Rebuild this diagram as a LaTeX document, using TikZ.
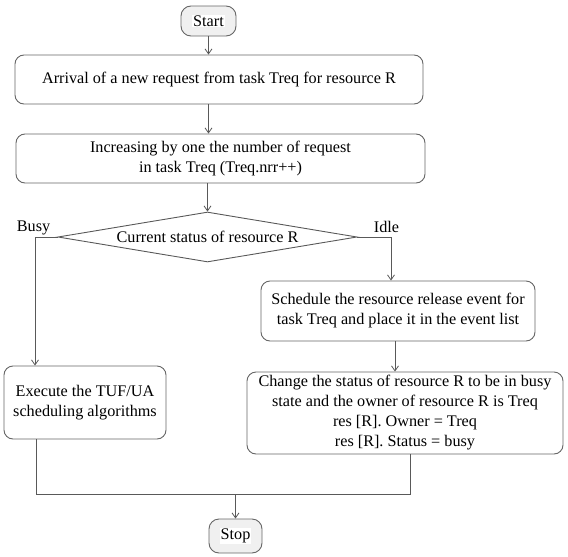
\documentclass[tikz,border=0pt]{standalone}
\usepackage{fontspec}
\setmainfont{Liberation Serif}
\usetikzlibrary{shapes.geometric,arrows.meta}
\begin{document}
\begin{tikzpicture}[x=1pt,y=-1pt,
  font=\fontsize{16.2}{20}\selectfont,
  line/.style={draw=black!65,line width=0.9pt},
  arr/.style={line,-{Straight Barb[length=5pt,width=7pt,line width=0.8pt]}},
  proc/.style={draw=black!60,line width=0.9pt,rounded corners=9pt,align=center,inner sep=0pt,fill=white},
  term/.style={draw=black!60,line width=0.9pt,rounded corners=10pt,fill=black!6,inner sep=0pt,align=center},
  decision/.style={diamond,draw=black!65,line width=0.9pt,inner sep=0pt,align=center},
  lbl/.style={inner sep=0pt}]
\useasboundingbox (0,0) rectangle (568,557);
\setlength\fboxsep{1pt}
\node[term,minimum width=55pt,minimum height=30pt] (start) at (208.5,21) {\colorbox{white}{Start}};
\node[proc,minimum width=408pt,minimum height=49pt] (b1) at (219,79.5) {Arrival of a new request from task Treq for resource R};
\node[proc,minimum width=409pt,minimum height=49pt] (b2) at (220.5,158.5) {Increasing by one the number of request\\in task Treq (Treq.nrr++)};
\node[decision,minimum width=299pt,minimum height=50pt] (dia) at (207.5,237) {};
\node[lbl] (diat) at (207.5,237) {Current status of resource R};
\node[lbl] (busy) at (33.5,228) {Busy};
\node[lbl] (idle) at (386.5,227) {Idle};
\node[proc,minimum width=162pt,minimum height=73pt] (b3) at (85,402.5) {Execute the TUF/UA\\scheduling algorithms};
\node[proc,minimum width=274pt,minimum height=60pt] (b4) at (398,311) {Schedule the resource release event for\\task Treq and place it in the event list};
\node[proc,minimum width=316pt,minimum height=82pt] (b5) at (405,413) {Change the status of resource R to be in busy\\state and the owner of resource R is Treq\\res [R]. Owner = Treq\\res [R]. Status = busy};
\node[term,minimum width=53pt,minimum height=34pt] (stop) at (235.5,536) {\colorbox{white}{Stop}};
\coordinate (bl) at (35,237);
\coordinate (ir) at (391,237);
\coordinate (jl) at (36,494);
\coordinate (jr) at (410,494);
\coordinate (jm) at (235.5,494);
\coordinate (c45) at (395,0);
\draw[arr] (start.south) -- (start.south |- b1.north);
\draw[arr] (b1.south -| start.south) -- (b2.north -| start.south);
\draw[arr] (b2.south -| dia.north) -- (dia.north);
\draw[arr] (dia.west) -- (bl) -- (bl |- b3.north);
\draw[arr] (dia.east) -- (ir) -- (ir |- b4.north);
\draw[arr] (b4.south -| c45) -- (b5.north -| c45);
\draw[line] (jl |- b3.south) -- (jl) -- (jr) -- (jr |- b5.south);
\draw[arr] (jm) -- (stop.north);
\end{tikzpicture}
\end{document}
